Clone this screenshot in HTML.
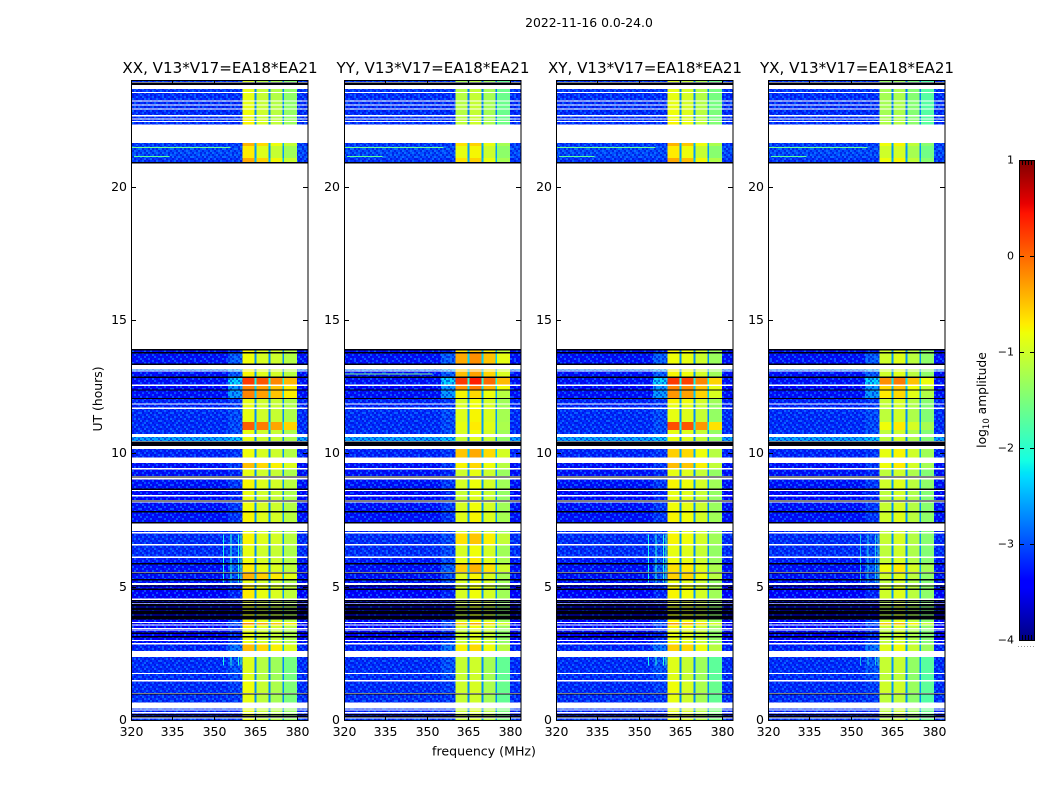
<!DOCTYPE html>
<html>
<head>
<meta charset="utf-8">
<title>Spectrogram 2022-11-16</title>
<style>
html,body{margin:0;padding:0;background:#fff;}
svg{display:block;}
text{font-family:"DejaVu Sans","Liberation Sans",sans-serif;fill:#000;}
</style>
</head>
<body>
<svg id="chart" xmlns="http://www.w3.org/2000/svg" width="1050" height="800" viewBox="0 0 1050 800">
  <defs id="defs"></defs>
  <text x="589" y="27" font-size="12.4" text-anchor="middle">2022-11-16 0.0-24.0</text>
  <text x="484" y="755.5" font-size="12.6" text-anchor="middle">frequency (MHz)</text>
  <text x="102" y="399" font-size="12.4" text-anchor="middle" transform="rotate(-90 102 399)">UT (hours)</text>
  <text x="986" y="400" font-size="12.3" text-anchor="middle" transform="rotate(-90 986 400)">log<tspan font-size="8.5" dy="3">10</tspan><tspan dy="-3"> amplitude</tspan></text>
  <g id="panels"></g>
  <g id="colorbar"></g>
</svg>
<script>
const panelTitles = ['XX, V13*V17=EA18*EA21','YY, V13*V17=EA18*EA21','XY, V13*V17=EA18*EA21','YX, V13*V17=EA18*EA21'];
const xTicks = [320,335,350,365,380];
const yTicks = [0,5,10,15,20];
const colorTicks = [1,0,-1,-2,-3,-4];
const colorTickLabels = ['1','0','\u22121','\u22122','\u22123','\u22124'];

/* Frequency bands in MHz */
const blueStart = [320, 355, 380];
const blueEnd = [355, 360.4, 384];
const brightStart = [360.4, 365.4, 370.4, 375.4];
const brightEnd = [364.7, 369.7, 374.7, 380];
const notchStart = [364.7, 369.7, 374.7];
const notchEnd = [365.4, 370.4, 375.4];
const notchLevel = -2.7;

/* log10 amplitude of each bright band, per polarisation */
const levelsXX = [-0.85,-1.0,-1.05,-1.2];
const levelsYY = [-1.05,-0.9,-1.05,-1.35];
const levelsXY = [-0.85,-0.9,-1.05,-1.35];
const levelsYX = [-1.1,-1.0,-1.2,-1.45];
const boostBandWeight = [1,1,0.8,0.7];

/* Time rows, in UT hours, top to bottom */
const rowTop = [23.96,23.66,23.51,23.19,23.04,22.89,22.63,22.52,22.43,21.64,21.53,21.08,13.91,13.76,13.14,13.07,12.84,12.53,12.36,12.04,11.83,11.66,11.18,10.88,10.61,10.16,9.64,9.39,9.02,8.59,8.38,8.16,7.78,7.09,6.99,6.54,6.07,5.83,5.49,5.23,5.06,4.5,4.35,3.75,3.64,3.54,3.39,3.34,2.96,2.83,2.36,1.73,1.44,0.96,0.44,0.35,0.25,0.06];
const rowBottom = [23.92,23.55,23.23,23.08,22.93,22.69,22.56,22.46,22.33,21.53,21.08,20.93,13.76,13.37,13.1,12.88,12.58,12.4,12.08,11.87,11.72,11.18,10.88,10.73,10.46,9.84,9.45,9.15,8.68,8.44,8.25,7.84,7.43,7.05,6.6,6.13,5.89,5.55,5.29,5.14,4.56,4.37,3.75,3.68,3.58,3.45,3.36,3.0,2.89,2.59,1.76,1.5,1.01,0.65,0.4,0.3,0.1,0];
const rowBlue = [-3.1,-3.1,-3.15,-3.15,-3.15,-3.15,-3.15,-3.15,-3.15,-3.1,-3.0,-3.1,-3.3,-3.3,-2.7,-3.3,-3.3,-3.4,-3.3,-3.2,-3.2,-3.15,-3.15,-3.15,-2.55,-3.2,-3.3,-3.3,-3.3,-3.35,-3.35,-3.3,-3.3,-3.2,-3.15,-3.15,-3.25,-3.3,-3.3,-3.3,-3.4,-3.5,-3.55,-3.4,-3.4,-3.4,-3.4,-3.4,-3.3,-3.2,-3.15,-3.15,-3.15,-3.15,-3.1,-3.2,-3.3,-3.1];
const rowTail = [-3.1,-3.1,-3.15,-3.15,-3.15,-3.15,-3.15,-3.15,-3.15,-3.1,-3.0,-3.1,-3.2,-2.9,-2.4,-2.9,-2.3,-2.6,-2.6,-3.1,-3.1,-3.0,-3.0,-3.0,-2.4,-3.1,-3.1,-3.2,-3.1,-3.2,-3.2,-3.1,-3.1,-3.1,-3.0,-3.0,-3.0,-2.9,-3.0,-3.0,-3.2,-3.3,-3.4,-3.0,-3.0,-3.1,-3.2,-3.2,-3.0,-2.8,-2.95,-3.0,-3.05,-3.1,-3.1,-3.2,-3.3,-3.1];
const rowBoostXX = [-0.1,0,0,0,0,0.05,0,0.1,0.1,0.45,0.15,0.5,0.1,0.05,0.1,0.1,1.1,0.7,0.7,0,0,0,0.9,0,0,0.05,0.4,0,0.1,0,0,0.05,0.1,0,0.1,0,0.05,0.15,0.45,0,0.15,0,0,0.1,0.7,0.1,0,0,0,0.4,-0.05,-0.05,0.05,0,0,0,0,0];
const rowBoostYY = [-0.2,-0.1,-0.1,-0.1,-0.1,-0.1,-0.1,-0.05,-0.05,0.4,0.2,0.4,0.4,0.7,0.5,0.6,1.3,0.8,0.3,0.1,0.1,0.15,0.2,0.1,0,0.55,0.3,0.05,0.1,0,0,0.1,0.15,0,0.4,0.1,0.2,0.5,0.15,0.1,0.1,0,0,0.1,0.6,0.1,0,0,0,0.3,0,0,0.05,0,0,0,0,0];
const rowBoostXY = [-0.1,0,0,0,0,0.05,0,0.1,0.1,0.45,0.15,0.5,0.1,0.05,0.1,0.1,1.1,0.7,0.6,0.1,0,0,1.0,0,0,0.3,0.4,0,0.1,0,0,0.05,0.1,0,0.1,0,0.05,0.2,0.3,0,0.1,0,0,0.1,0.6,0.1,0,0,0,0.3,-0.05,-0.05,0.05,0,0,0,0,0];
const rowBoostYX = [-0.25,-0.15,-0.15,-0.15,-0.15,-0.15,-0.15,-0.1,-0.1,0.3,0.1,0.3,0.1,0.1,0.1,0.1,0.9,0.5,0.4,0.05,0,0,0.3,0,0,0.25,0.3,0,0.1,0,0,0.05,0.1,0,0.05,0,0.05,0.3,0.1,0,0.1,0,0,0.1,0.6,0.1,0,0,0,0.2,0.05,0,0.1,0,0,0,0,0];
const rowTilt = [-0.06,-0.06,-0.06,-0.06,-0.06,-0.06,-0.06,-0.06,-0.06,-0.06,-0.06,-0.06,0,0,0,0,0,0,0,0,0,0,0,0,0,0,0,0,0,0,0,0,0,0,0,0,0,0,0,0,0,0,0,0,0,0,0,0,0,0,-0.1,-0.1,-0.1,-0.1,-0.05,-0.05,-0.05,-0.05];

/* Low-amplitude dropouts drawn black, in UT hours */
const blackLineHours = [23.89,23.85,20.9,13.89,13.78,13.35,12.86,12.38,12.06,10.43,10.39,10.35,10.31,9.12,8.66,8.22,7.81,7.4,5.86,5.52,5.26,5.03,4.91,4.48,4.41,4.33,4.3,4.24,4.18,4.13,4.07,4.01,3.98,3.9,3.84,3.79,3.26,3.13,0.98,0.2,0.13];

/* Narrow interference lines next to the band edge */
const rfiFreq = [353.2,356,358.6,359.6,353.2,356,358.6,359.6];
const rfiStart = [5.15,5.15,5.15,5.15,2.05,2.05,2.05,2.05];
const rfiEnd = [6.95,6.95,6.95,6.95,2.37,2.37,2.37,2.37];
const rfiLevel = [-2.1,-2.0,-2.0,-1.9,-2.1,-2.0,-2.0,-1.9];

/* Short horizontal interference streaks */
const spurHour = [21.49,21.15,13.0];
const spurStart = [320,321,320];
const spurEnd = [356,334,352];
const spurLevel = [-1.6,-1.7,-1.5];
const spurPanelWeight = [[1,1,1,1],[1,1,1,1],[0,1,0,0]];

/* Hand-picked speckle tile for the noise floor: 0 dark, 1 none, 2 light */
const speckleTile = [
  [1,2,0,1,2,1,0,2,1,0,1,1,2,0,1,0],
  [0,1,2,1,0,1,1,0,2,1,2,0,1,1,2,1],
  [2,0,1,0,1,2,2,0,1,1,0,2,0,1,0,2],
  [1,1,0,2,1,0,1,1,0,2,1,0,1,2,1,0],
  [0,2,1,1,0,1,0,2,1,0,2,1,0,1,2,1],
  [1,0,1,2,0,2,1,1,0,1,0,1,2,0,1,0],
  [2,1,0,1,1,0,2,0,1,2,1,0,1,1,0,2],
  [0,1,2,0,1,1,0,1,2,0,1,2,0,1,1,0],
  [1,0,1,1,2,0,1,2,0,1,0,1,1,0,2,1],
  [2,1,0,2,0,1,0,1,1,2,1,0,2,1,0,1],
  [0,1,1,0,1,2,1,0,2,0,1,1,0,2,1,0],
  [1,2,0,1,0,1,2,1,0,1,2,0,1,0,1,2]
];

const panelLeft = [131,344,556,768];
const panelWidth = 177;
const panelTop = 80;
const panelBottom = 720;
const levelSets = [levelsXX,levelsYY,levelsXY,levelsYX];
const boostSets = [rowBoostXX,rowBoostYY,rowBoostXY,rowBoostYX];
const rfiPanels = [1,0.4,1,0.7];
const SVGNS = 'http://www.w3.org/2000/svg';

function jet(t){
  t = Math.max(0,Math.min(1,t));
  function seg(p){
    for(let i=0;i<p.length-1;i++){
      if(t<=p[i+1][0]){
        return p[i][1]+(p[i+1][1]-p[i][1])*(t-p[i][0])/(p[i+1][0]-p[i][0]);
      }
    }
    return p[p.length-1][1];
  }
  const r = seg([[0,0],[0.35,0],[0.66,1],[0.89,1],[1,0.5]]);
  const g = seg([[0,0],[0.125,0],[0.375,1],[0.64,1],[0.91,0],[1,0]]);
  const b = seg([[0,0.5],[0.11,1],[0.34,1],[0.65,0],[1,0]]);
  return 'rgb('+Math.round(r*255)+','+Math.round(g*255)+','+Math.round(b*255)+')';
}
function levelColor(v){ return jet((v+4)/5); }
function xScale(left,f){ return left+(f-320)*panelWidth/64; }
function yScale(h){ return panelBottom-h*(panelBottom-panelTop)/24; }
function colorY(v){ return 640-(v+4)*96; }

function mk(tag,attrs,parent,txt){
  const el = document.createElementNS(SVGNS,tag);
  for(const k in attrs){ el.setAttribute(k,attrs[k]); }
  if(txt!==undefined){ el.textContent = txt; }
  parent.appendChild(el);
  return el;
}

/* speckle pattern */
const defs = document.getElementById('defs');
const pat = mk('pattern',{id:'speckle',patternUnits:'userSpaceOnUse',x:0,y:0,
  width:speckleTile[0].length*2,height:speckleTile.length*2},defs);
speckleTile.forEach(function(row,j){
  row.forEach(function(c,i){
    if(c===1){ return; }
    mk('rect',{x:i*2,y:j*2,width:2,height:2,fill:c===0?'#0000d0':'#1088ff','fill-opacity':c===0?0.5:0.55},pat);
  });
});

const panelsGroup = document.getElementById('panels');
panelLeft.forEach(function(left,p){
  const g = mk('g',{'shape-rendering':'crispEdges'},panelsGroup);
  
  

  const levels = levelSets[p];
  const boost = boostSets[p];
  rowTop.forEach(function(top,r){
    const y0 = yScale(top);
    const y1 = yScale(rowBottom[r]);
    const h = Math.max(y1-y0,1);
    blueStart.forEach(function(fs,b){
      const x0 = xScale(left,fs);
      const x1 = xScale(left,blueEnd[b]);
      const v = b===1 ? rowTail[r] : rowBlue[r];
      const cell = mk('rect',{x:x0,y:y0,width:x1-x0,height:h,fill:levelColor(v)},g);
      
      
      const tex = mk('rect',{x:x0,y:y0,width:x1-x0,height:h,fill:'url(#speckle)'},g);
      
      
    });
    brightStart.forEach(function(fs,b){
      const x0 = xScale(left,fs);
      const x1 = xScale(left,brightEnd[b]);
      const v = levels[b]+boost[r]*boostBandWeight[b]+rowTilt[r]*b;
      const cell = mk('rect',{x:x0,y:y0,width:x1-x0,height:h,fill:levelColor(v)},g);
      
      
    });
    notchStart.forEach(function(fs,b){
      const x0 = xScale(left,fs);
      const x1 = xScale(left,notchEnd[b]);
      const cell = mk('rect',{x:x0,y:y0,width:x1-x0,height:h,fill:levelColor(notchLevel+boost[r]*0.5)},g);
      
      
    });
    rfiFreq.forEach(function(f,i){
      if(rfiPanels[p]<0.6){ return; }
      const a = Math.min(top,rfiEnd[i]);
      const c = Math.max(rowBottom[r],rfiStart[i]);
      if(a<=c){ return; }
      const line = mk('rect',{x:xScale(left,f),y:yScale(a),width:1,height:yScale(c)-yScale(a),
        fill:levelColor(rfiLevel[i]),'fill-opacity':rfiPanels[p]},g);
      
      
    });
  });

  spurHour.forEach(function(hr,i){
    if(!spurPanelWeight[i][p]){ return; }
    const s = mk('rect',{x:xScale(left,spurStart[i]),y:yScale(hr),width:xScale(left,spurEnd[i])-xScale(left,spurStart[i]),
      height:1,fill:levelColor(spurLevel[i])},g);
    
    
  });

  blackLineHours.forEach(function(hr){
    const line = mk('rect',{x:left,y:yScale(hr)-0.5,width:panelWidth,height:1.3,fill:'#00000a'},g);
    
    
  });

  const frame = mk('rect',{x:left+0.5,y:panelTop+0.5,width:panelWidth-0.5,height:panelBottom-panelTop,fill:'none',stroke:'#000','stroke-width':1},g);
  
  

  const title = mk('text',{x:left+89,y:73,'font-size':15.1,'text-anchor':'middle'},panelsGroup,panelTitles[p]);
  
  

  xTicks.forEach(function(t){
    const x = Math.round(xScale(left,t))+0.5;
    const tb = mk('line',{x1:x,x2:x,y1:panelBottom,y2:panelBottom-4,stroke:'#000'},g);
    
    
    const tt = mk('line',{x1:x,x2:x,y1:panelTop,y2:panelTop+4,stroke:'#000'},g);
    
    
    const lab = mk('text',{x:x,y:736,'font-size':12.5,'text-anchor':'middle'},panelsGroup,String(t));
    
    
  });
  yTicks.forEach(function(t){
    const y = Math.round(yScale(t))+0.5;
    const tl = mk('line',{x1:left,x2:left+5,y1:y,y2:y,stroke:'#000'},g);
    
    
    const tr = mk('line',{x1:left+panelWidth,x2:left+panelWidth-5,y1:y,y2:y,stroke:'#000'},g);
    
    
    const lab = mk('text',{x:left-4,y:y+3.5,'font-size':12.5,'text-anchor':'end'},panelsGroup,String(t));
    
    
  });
});

/* colorbar */
const cb = document.getElementById('colorbar');
const grad = mk('linearGradient',{id:'jetGrad',x1:0,y1:1,x2:0,y2:0},defs);
[0,0.11,0.125,0.34,0.35,0.375,0.5,0.64,0.65,0.66,0.75,0.89,0.91,1].forEach(function(s){
  mk('stop',{offset:s,'stop-color':jet(s)},grad);
});
const bar = mk('rect',{x:1019.5,y:160.5,width:15,height:480,fill:'url(#jetGrad)',stroke:'#000','stroke-width':1},cb);


colorTicks.forEach(function(v,i){
  const y = Math.round(colorY(v))+0.5;
  if(i>0 && i<colorTicks.length-1){
    const a = mk('line',{x1:1020,x2:1024,y1:y,y2:y,stroke:'#000'},cb);
    
    
    const c = mk('line',{x1:1030,x2:1034,y1:y,y2:y,stroke:'#000'},cb);
    
    
  }
  const lab = mk('text',{x:1014,y:y+3,'font-size':11,'text-anchor':'end'},cb,colorTickLabels[i]);
  
  
});
[1022,1025,1028,1031].forEach(function(x){
  const t = mk('line',{x1:x+0.5,x2:x+0.5,y1:161,y2:165,stroke:'#000'},cb);
  
  
  const u = mk('line',{x1:x+0.5,x2:x+0.5,y1:635,y2:640,stroke:'#000'},cb);
  
  
});
const dots = mk('line',{x1:1018,x2:1035,y1:646.5,y2:646.5,stroke:'#999','stroke-dasharray':'1 2'},cb);


</script>
</body>
</html>
